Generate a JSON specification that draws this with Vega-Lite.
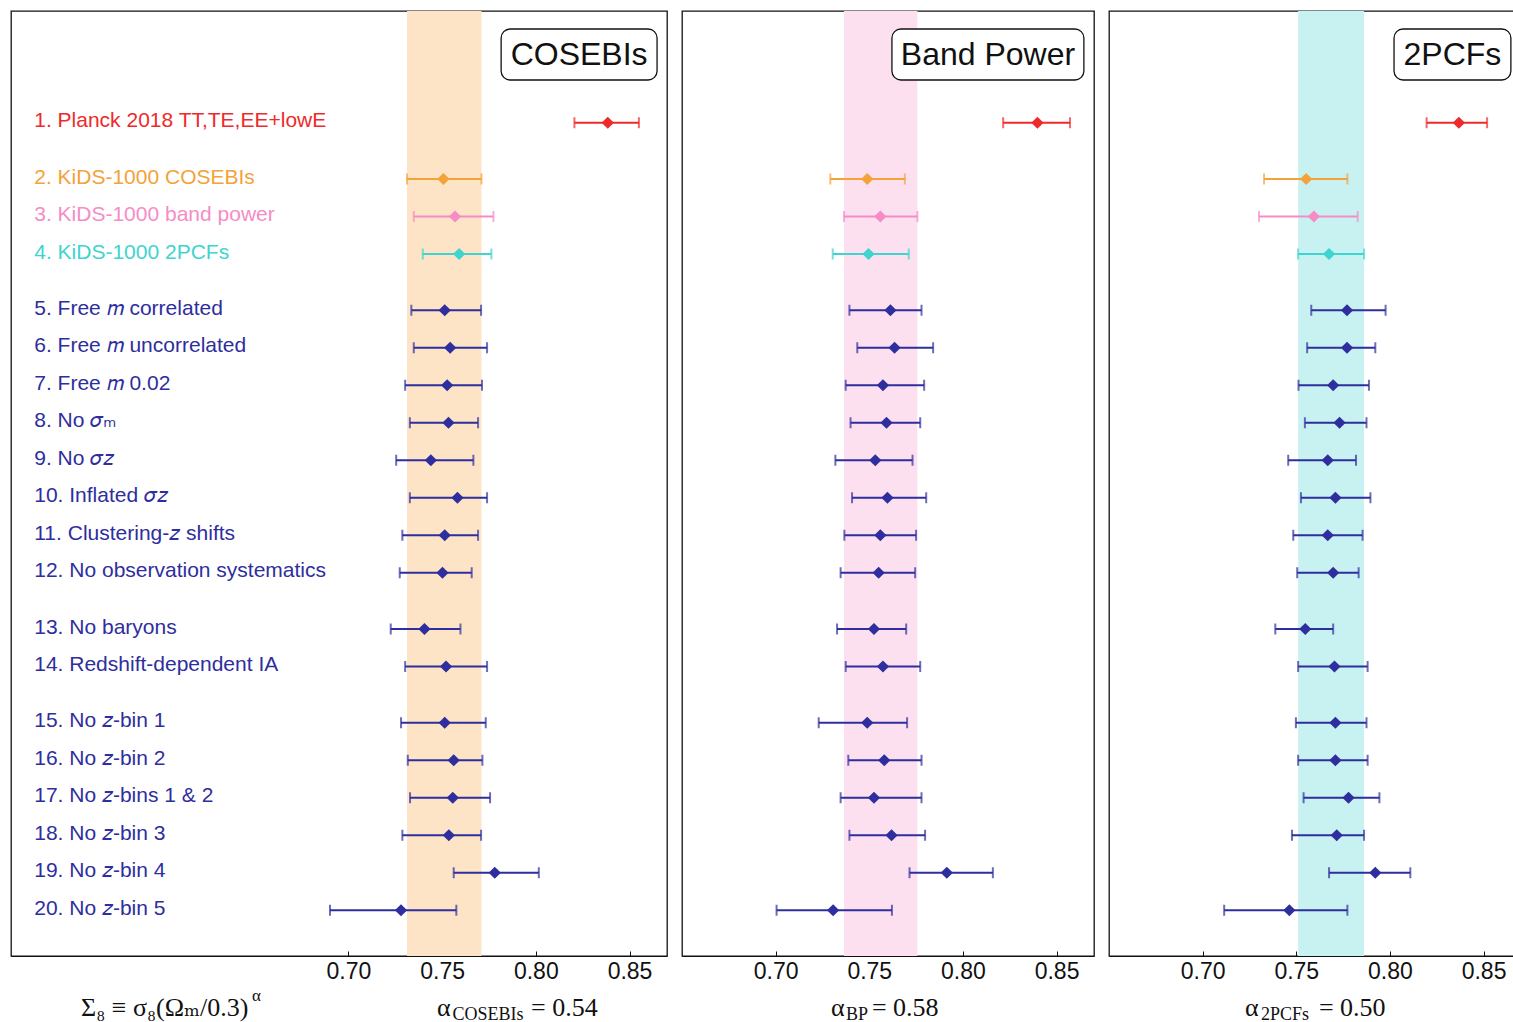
{
  "$schema": "https://vega.github.io/schema/vega-lite/v6.json",
  "padding": {"left": 10, "top": 10, "right": 0, "bottom": 0},
  "background": "white",
  "bounds": "flush",
  "spacing": 15,
  "config": {
    "font": "Liberation Sans",
    "view": {"stroke": "#111111", "strokeWidth": 1.3},
    "axis": {"grid": false}
  },
  "datasets": {
    "rows": [
      {"row": 1, "slot": 0, "group": "planck", "label": "1. Planck 2018 TT,TE,EE+lowE"},
      {"row": 2, "slot": 1.5, "group": "cosebis", "label": "2. KiDS-1000 COSEBIs"},
      {"row": 3, "slot": 2.5, "group": "bp", "label": "3. KiDS-1000 band power"},
      {"row": 4, "slot": 3.5, "group": "xipm", "label": "4. KiDS-1000 2PCFs"},
      {"row": 5, "slot": 5, "group": "sys", "label": "5. Free 𝑚 correlated"},
      {"row": 6, "slot": 6, "group": "sys", "label": "6. Free 𝑚 uncorrelated"},
      {"row": 7, "slot": 7, "group": "sys", "label": "7. Free 𝑚 0.02"},
      {"row": 8, "slot": 8, "group": "sys", "label": "8. No 𝜎ₘ"},
      {"row": 9, "slot": 9, "group": "sys", "label": "9. No 𝜎𝑧"},
      {"row": 10, "slot": 10, "group": "sys", "label": "10. Inflated 𝜎𝑧"},
      {"row": 11, "slot": 11, "group": "sys", "label": "11. Clustering-𝑧 shifts"},
      {"row": 12, "slot": 12, "group": "sys", "label": "12. No observation systematics"},
      {"row": 13, "slot": 13.5, "group": "sys", "label": "13. No baryons"},
      {"row": 14, "slot": 14.5, "group": "sys", "label": "14. Redshift-dependent IA"},
      {"row": 15, "slot": 16, "group": "sys", "label": "15. No 𝑧-bin 1"},
      {"row": 16, "slot": 17, "group": "sys", "label": "16. No 𝑧-bin 2"},
      {"row": 17, "slot": 18, "group": "sys", "label": "17. No 𝑧-bins 1 & 2"},
      {"row": 18, "slot": 19, "group": "sys", "label": "18. No 𝑧-bin 3"},
      {"row": 19, "slot": 20, "group": "sys", "label": "19. No 𝑧-bin 4"},
      {"row": 20, "slot": 21, "group": "sys", "label": "20. No 𝑧-bin 5"}
    ],
    "fits": [
      {"stat": "COSEBIs", "row": 1, "lo": 0.8206, "mid": 0.8384, "hi": 0.8550},
      {"stat": "COSEBIs", "row": 2, "lo": 0.7313, "mid": 0.7507, "hi": 0.7710},
      {"stat": "COSEBIs", "row": 3, "lo": 0.7349, "mid": 0.7569, "hi": 0.7774},
      {"stat": "COSEBIs", "row": 4, "lo": 0.7397, "mid": 0.7591, "hi": 0.7763},
      {"stat": "COSEBIs", "row": 5, "lo": 0.7336, "mid": 0.7514, "hi": 0.7708},
      {"stat": "COSEBIs", "row": 6, "lo": 0.7349, "mid": 0.7543, "hi": 0.7740},
      {"stat": "COSEBIs", "row": 7, "lo": 0.7303, "mid": 0.7527, "hi": 0.7713},
      {"stat": "COSEBIs", "row": 8, "lo": 0.7328, "mid": 0.7534, "hi": 0.7692},
      {"stat": "COSEBIs", "row": 9, "lo": 0.7255, "mid": 0.7440, "hi": 0.7667},
      {"stat": "COSEBIs", "row": 10, "lo": 0.7328, "mid": 0.7582, "hi": 0.7740},
      {"stat": "COSEBIs", "row": 11, "lo": 0.7288, "mid": 0.7514, "hi": 0.7692},
      {"stat": "COSEBIs", "row": 12, "lo": 0.7274, "mid": 0.7502, "hi": 0.7658},
      {"stat": "COSEBIs", "row": 13, "lo": 0.7226, "mid": 0.7406, "hi": 0.7598},
      {"stat": "COSEBIs", "row": 14, "lo": 0.7303, "mid": 0.7521, "hi": 0.7740},
      {"stat": "COSEBIs", "row": 15, "lo": 0.7281, "mid": 0.7514, "hi": 0.7733},
      {"stat": "COSEBIs", "row": 16, "lo": 0.7317, "mid": 0.7562, "hi": 0.7715},
      {"stat": "COSEBIs", "row": 17, "lo": 0.7329, "mid": 0.7557, "hi": 0.7756},
      {"stat": "COSEBIs", "row": 18, "lo": 0.7288, "mid": 0.7536, "hi": 0.7708},
      {"stat": "COSEBIs", "row": 19, "lo": 0.7562, "mid": 0.7781, "hi": 0.8016},
      {"stat": "COSEBIs", "row": 20, "lo": 0.6902, "mid": 0.7281, "hi": 0.7576},
      {"stat": "BP", "row": 1, "lo": 0.8215, "mid": 0.8398, "hi": 0.8572},
      {"stat": "BP", "row": 2, "lo": 0.7292, "mid": 0.7489, "hi": 0.7690},
      {"stat": "BP", "row": 3, "lo": 0.7365, "mid": 0.7559, "hi": 0.7757},
      {"stat": "BP", "row": 4, "lo": 0.7305, "mid": 0.7496, "hi": 0.7711},
      {"stat": "BP", "row": 5, "lo": 0.7394, "mid": 0.7613, "hi": 0.7779},
      {"stat": "BP", "row": 6, "lo": 0.7436, "mid": 0.7635, "hi": 0.7841},
      {"stat": "BP", "row": 7, "lo": 0.7374, "mid": 0.7573, "hi": 0.7793},
      {"stat": "BP", "row": 8, "lo": 0.7400, "mid": 0.7592, "hi": 0.7772},
      {"stat": "BP", "row": 9, "lo": 0.7319, "mid": 0.7532, "hi": 0.7731},
      {"stat": "BP", "row": 10, "lo": 0.7408, "mid": 0.7597, "hi": 0.7804},
      {"stat": "BP", "row": 11, "lo": 0.7367, "mid": 0.7559, "hi": 0.7750},
      {"stat": "BP", "row": 12, "lo": 0.7347, "mid": 0.7550, "hi": 0.7745},
      {"stat": "BP", "row": 13, "lo": 0.7328, "mid": 0.7525, "hi": 0.7697},
      {"stat": "BP", "row": 14, "lo": 0.7374, "mid": 0.7573, "hi": 0.7772},
      {"stat": "BP", "row": 15, "lo": 0.7230, "mid": 0.7489, "hi": 0.7702},
      {"stat": "BP", "row": 16, "lo": 0.7388, "mid": 0.7580, "hi": 0.7779},
      {"stat": "BP", "row": 17, "lo": 0.7347, "mid": 0.7525, "hi": 0.7779},
      {"stat": "BP", "row": 18, "lo": 0.7394, "mid": 0.7619, "hi": 0.7798},
      {"stat": "BP", "row": 19, "lo": 0.7715, "mid": 0.7914, "hi": 0.8160},
      {"stat": "BP", "row": 20, "lo": 0.7005, "mid": 0.7307, "hi": 0.7621},
      {"stat": "2PCFs", "row": 1, "lo": 0.8196, "mid": 0.8368, "hi": 0.8519},
      {"stat": "2PCFs", "row": 2, "lo": 0.7328, "mid": 0.7553, "hi": 0.7773},
      {"stat": "2PCFs", "row": 3, "lo": 0.7301, "mid": 0.7594, "hi": 0.7828},
      {"stat": "2PCFs", "row": 4, "lo": 0.7510, "mid": 0.7675, "hi": 0.7862},
      {"stat": "2PCFs", "row": 5, "lo": 0.7580, "mid": 0.7771, "hi": 0.7977},
      {"stat": "2PCFs", "row": 6, "lo": 0.7558, "mid": 0.7771, "hi": 0.7922},
      {"stat": "2PCFs", "row": 7, "lo": 0.7512, "mid": 0.7697, "hi": 0.7888},
      {"stat": "2PCFs", "row": 8, "lo": 0.7546, "mid": 0.7731, "hi": 0.7875},
      {"stat": "2PCFs", "row": 9, "lo": 0.7457, "mid": 0.7668, "hi": 0.7819},
      {"stat": "2PCFs", "row": 10, "lo": 0.7525, "mid": 0.7709, "hi": 0.7896},
      {"stat": "2PCFs", "row": 11, "lo": 0.7484, "mid": 0.7668, "hi": 0.7854},
      {"stat": "2PCFs", "row": 12, "lo": 0.7505, "mid": 0.7697, "hi": 0.7833},
      {"stat": "2PCFs", "row": 13, "lo": 0.7388, "mid": 0.7548, "hi": 0.7697},
      {"stat": "2PCFs", "row": 14, "lo": 0.7510, "mid": 0.7704, "hi": 0.7881},
      {"stat": "2PCFs", "row": 15, "lo": 0.7498, "mid": 0.7709, "hi": 0.7875},
      {"stat": "2PCFs", "row": 16, "lo": 0.7510, "mid": 0.7709, "hi": 0.7881},
      {"stat": "2PCFs", "row": 17, "lo": 0.7539, "mid": 0.7779, "hi": 0.7944},
      {"stat": "2PCFs", "row": 18, "lo": 0.7477, "mid": 0.7716, "hi": 0.7862},
      {"stat": "2PCFs", "row": 19, "lo": 0.7675, "mid": 0.7922, "hi": 0.8109},
      {"stat": "2PCFs", "row": 20, "lo": 0.7115, "mid": 0.7463, "hi": 0.7773}
    ]
  },
  "hconcat": [
    {
      "width": 656,
      "height": 945,
      "data": {"name": "fits"},
      "transform": [
        {"filter": "datum.stat === 'COSEBIs'"},
        {"lookup": "row", "from": {"data": {"name": "rows"}, "key": "row", "fields": ["slot", "group"]}}
      ],
      "layer": [
        {
          "transform": [{"filter": "datum.row === 2"}],
          "mark": {"type": "rect", "color": "#fde4c6"},
          "encoding": {
            "x": {"field": "lo", "type": "quantitative", "scale": {"domain": [0.52, 0.87], "nice": false, "zero": false},
              "axis": {"values": [0.70, 0.75, 0.80, 0.85], "format": ".2f", "title": null, "labelFontSize": 23, "labelColor": "#111111", "tickSize": -5, "tickColor": "#111111", "domainColor": "#111111", "labelPadding": 9, "labelFlush": false}},
            "x2": {"field": "hi"}
          }
        },
        {
          "mark": {"type": "errorbar", "ticks": {"size": 11}, "thickness": 2},
          "encoding": {
            "x": {"field": "lo", "type": "quantitative"},
            "x2": {"field": "hi"},
            "y": {"field": "slot", "type": "quantitative", "scale": {"domain": [-2.98, 22.22], "reverse": true, "nice": false, "zero": false}, "axis": null},
            "color": {"field": "group", "type": "nominal", "legend": null,
              "scale": {"domain": ["planck", "cosebis", "bp", "xipm", "sys"], "range": ["#ee2a2a", "#f4a23a", "#f68cc6", "#3ed4cf", "#2e2e9e"]}}
          }
        },
        {
          "mark": {"type": "point", "shape": "diamond", "filled": true, "size": 150, "opacity": 1},
          "encoding": {
            "x": {"field": "mid", "type": "quantitative"},
            "y": {"field": "slot", "type": "quantitative"},
            "color": {"field": "group", "type": "nominal", "legend": null}
          }
        },
        {
          "data": {"name": "rows"},
          "transform": [],
          "mark": {"type": "text", "align": "left", "baseline": "middle", "dy": -1.5, "fontSize": 21, "font": "Liberation Sans, DejaVu Sans"},
          "encoding": {
            "x": {"datum": 0.5324},
            "y": {"field": "slot", "type": "quantitative"},
            "text": {"field": "label"},
            "color": {"field": "group", "type": "nominal", "legend": null}
          }
        },
        {
          "data": {"values": [{"name": "COSEBIs"}]},
          "transform": [],
          "mark": {"type": "rect", "fill": "white", "stroke": "#111111", "strokeWidth": 1.3, "cornerRadius": 9},
          "encoding": {"x": {"datum": 0.7815}, "x2": {"datum": 0.8647}, "y": {"datum": -2.50}, "y2": {"datum": -1.14}}
        },
        {
          "data": {"values": [{"name": "COSEBIs"}]},
          "transform": [],
          "mark": {"type": "text", "align": "center", "baseline": "middle", "fontSize": 32, "color": "#111111"},
          "encoding": {"x": {"datum": 0.8231}, "y": {"datum": -1.82}, "text": {"field": "name"}}
        },
        {
          "data": {"values": [{"t": "Σ₈ ≡ σ₈(Ωₘ/0.3)"}]},
          "transform": [],
          "mark": {"type": "text", "align": "left", "baseline": "alphabetic", "fontSize": 26, "font": "Liberation Serif, DejaVu Serif", "color": "#111111"},
          "encoding": {"x": {"datum": 0.5574}, "y": {"datum": 23.82}, "text": {"field": "t"}}
        },
        {
          "data": {"values": [{"t": "α"}]},
          "transform": [],
          "mark": {"type": "text", "align": "left", "baseline": "alphabetic", "fontSize": 17, "font": "Liberation Serif, DejaVu Serif", "color": "#111111"},
          "encoding": {"x": {"datum": 0.6486}, "y": {"datum": 23.42}, "text": {"field": "t"}}
        },
        {
          "data": {"values": [{"t": "α"}]},
          "transform": [],
          "mark": {"type": "text", "align": "left", "baseline": "alphabetic", "fontSize": 26, "font": "Liberation Serif, DejaVu Serif", "color": "#111111"},
          "encoding": {"x": {"datum": 0.7473}, "y": {"datum": 23.82}, "text": {"field": "t"}}
        },
        {
          "data": {"values": [{"t": "COSEBIs"}]},
          "transform": [],
          "mark": {"type": "text", "align": "left", "baseline": "alphabetic", "fontSize": 18, "font": "Liberation Serif, DejaVu Serif", "color": "#111111"},
          "encoding": {"x": {"datum": 0.7555}, "y": {"datum": 23.93}, "text": {"field": "t"}}
        },
        {
          "data": {"values": [{"t": "= 0.54"}]},
          "transform": [],
          "mark": {"type": "text", "align": "left", "baseline": "alphabetic", "fontSize": 26, "font": "Liberation Serif, DejaVu Serif", "color": "#111111"},
          "encoding": {"x": {"datum": 0.7975}, "y": {"datum": 23.82}, "text": {"field": "t"}}
        }
      ]
    },
    {
      "width": 412,
      "height": 945,
      "data": {"name": "fits"},
      "transform": [
        {"filter": "datum.stat === 'BP'"},
        {"lookup": "row", "from": {"data": {"name": "rows"}, "key": "row", "fields": ["slot", "group"]}}
      ],
      "layer": [
        {
          "transform": [{"filter": "datum.row === 3"}],
          "mark": {"type": "rect", "color": "#fde0f0"},
          "encoding": {
            "x": {"field": "lo", "type": "quantitative", "scale": {"domain": [0.65, 0.87], "nice": false, "zero": false},
              "axis": {"values": [0.70, 0.75, 0.80, 0.85], "format": ".2f", "title": null, "labelFontSize": 23, "labelColor": "#111111", "tickSize": -5, "tickColor": "#111111", "domainColor": "#111111", "labelPadding": 9, "labelFlush": false}},
            "x2": {"field": "hi"}
          }
        },
        {
          "mark": {"type": "errorbar", "ticks": {"size": 11}, "thickness": 2},
          "encoding": {
            "x": {"field": "lo", "type": "quantitative"},
            "x2": {"field": "hi"},
            "y": {"field": "slot", "type": "quantitative", "scale": {"domain": [-2.98, 22.22], "reverse": true, "nice": false, "zero": false}, "axis": null},
            "color": {"field": "group", "type": "nominal", "legend": null,
              "scale": {"domain": ["planck", "cosebis", "bp", "xipm", "sys"], "range": ["#ee2a2a", "#f4a23a", "#f68cc6", "#3ed4cf", "#2e2e9e"]}}
          }
        },
        {
          "mark": {"type": "point", "shape": "diamond", "filled": true, "size": 150, "opacity": 1},
          "encoding": {
            "x": {"field": "mid", "type": "quantitative"},
            "y": {"field": "slot", "type": "quantitative"},
            "color": {"field": "group", "type": "nominal", "legend": null}
          }
        },
        {
          "data": {"values": [{"name": "Band Power"}]},
          "transform": [],
          "mark": {"type": "rect", "fill": "white", "stroke": "#111111", "strokeWidth": 1.3, "cornerRadius": 9},
          "encoding": {"x": {"datum": 0.7621}, "x2": {"datum": 0.8646}, "y": {"datum": -2.50}, "y2": {"datum": -1.14}}
        },
        {
          "data": {"values": [{"name": "Band Power"}]},
          "transform": [],
          "mark": {"type": "text", "align": "center", "baseline": "middle", "fontSize": 32, "color": "#111111"},
          "encoding": {"x": {"datum": 0.8134}, "y": {"datum": -1.82}, "text": {"field": "name"}}
        },
        {
          "data": {"values": [{"t": "α"}]},
          "transform": [],
          "mark": {"type": "text", "align": "left", "baseline": "alphabetic", "fontSize": 26, "font": "Liberation Serif, DejaVu Serif", "color": "#111111"},
          "encoding": {"x": {"datum": 0.7296}, "y": {"datum": 23.82}, "text": {"field": "t"}}
        },
        {
          "data": {"values": [{"t": "BP"}]},
          "transform": [],
          "mark": {"type": "text", "align": "left", "baseline": "alphabetic", "fontSize": 18, "font": "Liberation Serif, DejaVu Serif", "color": "#111111"},
          "encoding": {"x": {"datum": 0.7376}, "y": {"datum": 23.93}, "text": {"field": "t"}}
        },
        {
          "data": {"values": [{"t": "= 0.58"}]},
          "transform": [],
          "mark": {"type": "text", "align": "left", "baseline": "alphabetic", "fontSize": 26, "font": "Liberation Serif, DejaVu Serif", "color": "#111111"},
          "encoding": {"x": {"datum": 0.7514}, "y": {"datum": 23.82}, "text": {"field": "t"}}
        }
      ]
    },
    {
      "width": 412,
      "height": 945,
      "data": {"name": "fits"},
      "transform": [
        {"filter": "datum.stat === '2PCFs'"},
        {"lookup": "row", "from": {"data": {"name": "rows"}, "key": "row", "fields": ["slot", "group"]}}
      ],
      "layer": [
        {
          "transform": [{"filter": "datum.row === 4"}],
          "mark": {"type": "rect", "color": "#c8f2f1"},
          "encoding": {
            "x": {"field": "lo", "type": "quantitative", "scale": {"domain": [0.65, 0.87], "nice": false, "zero": false},
              "axis": {"values": [0.70, 0.75, 0.80, 0.85], "format": ".2f", "title": null, "labelFontSize": 23, "labelColor": "#111111", "tickSize": -5, "tickColor": "#111111", "domainColor": "#111111", "labelPadding": 9, "labelFlush": false}},
            "x2": {"field": "hi"}
          }
        },
        {
          "mark": {"type": "errorbar", "ticks": {"size": 11}, "thickness": 2},
          "encoding": {
            "x": {"field": "lo", "type": "quantitative"},
            "x2": {"field": "hi"},
            "y": {"field": "slot", "type": "quantitative", "scale": {"domain": [-2.98, 22.22], "reverse": true, "nice": false, "zero": false}, "axis": null},
            "color": {"field": "group", "type": "nominal", "legend": null,
              "scale": {"domain": ["planck", "cosebis", "bp", "xipm", "sys"], "range": ["#ee2a2a", "#f4a23a", "#f68cc6", "#3ed4cf", "#2e2e9e"]}}
          }
        },
        {
          "mark": {"type": "point", "shape": "diamond", "filled": true, "size": 150, "opacity": 1},
          "encoding": {
            "x": {"field": "mid", "type": "quantitative"},
            "y": {"field": "slot", "type": "quantitative"},
            "color": {"field": "group", "type": "nominal", "legend": null}
          }
        },
        {
          "data": {"values": [{"name": "2PCFs"}]},
          "transform": [],
          "mark": {"type": "rect", "fill": "white", "stroke": "#111111", "strokeWidth": 1.3, "cornerRadius": 9},
          "encoding": {"x": {"datum": 0.8022}, "x2": {"datum": 0.8646}, "y": {"datum": -2.50}, "y2": {"datum": -1.14}}
        },
        {
          "data": {"values": [{"name": "2PCFs"}]},
          "transform": [],
          "mark": {"type": "text", "align": "center", "baseline": "middle", "fontSize": 32, "color": "#111111"},
          "encoding": {"x": {"datum": 0.8334}, "y": {"datum": -1.82}, "text": {"field": "name"}}
        },
        {
          "data": {"values": [{"t": "α"}]},
          "transform": [],
          "mark": {"type": "text", "align": "left", "baseline": "alphabetic", "fontSize": 26, "font": "Liberation Serif, DejaVu Serif", "color": "#111111"},
          "encoding": {"x": {"datum": 0.7226}, "y": {"datum": 23.82}, "text": {"field": "t"}}
        },
        {
          "data": {"values": [{"t": "2PCFs"}]},
          "transform": [],
          "mark": {"type": "text", "align": "left", "baseline": "alphabetic", "fontSize": 18, "font": "Liberation Serif, DejaVu Serif", "color": "#111111"},
          "encoding": {"x": {"datum": 0.7312}, "y": {"datum": 23.93}, "text": {"field": "t"}}
        },
        {
          "data": {"values": [{"t": "= 0.50"}]},
          "transform": [],
          "mark": {"type": "text", "align": "left", "baseline": "alphabetic", "fontSize": 26, "font": "Liberation Serif, DejaVu Serif", "color": "#111111"},
          "encoding": {"x": {"datum": 0.7621}, "y": {"datum": 23.82}, "text": {"field": "t"}}
        }
      ]
    }
  ]
}
